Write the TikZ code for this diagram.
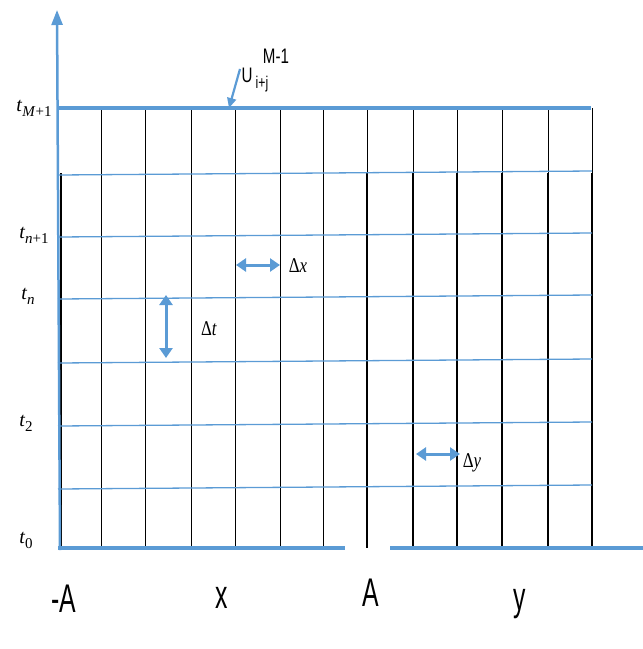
\documentclass[tikz,border=0pt]{standalone}
\usepackage{fontspec}
\newfontfamily\lsans{Liberation Sans}
\newfontfamily\lserif{Liberation Serif}
\usetikzlibrary{arrows.meta}
\definecolor{gblue}{RGB}{91,155,213}
\begin{document}
\begin{tikzpicture}[x=1pt,y=-1pt,
  thickblue/.style={gblue,line width=4pt},
  thinblue/.style={gblue,line width=1.3pt},
  thinblack/.style={black,line width=0.9pt},
  thickblack/.style={black,line width=2.8pt},
  darrow/.style={gblue,line width=3pt,{Triangle[length=10pt,width=13pt]}-{Triangle[length=10pt,width=13pt]}},
  tlab/.style={font=\lserif\fontsize{20}{20}\selectfont, inner sep=0pt},
  dlab/.style={font=\lserif\fontsize{21}{21}\selectfont, inner sep=0pt, xscale=0.8},
  big/.style={font=\lsans\fontsize{40}{40}\selectfont, xscale=0.62, inner sep=0pt, anchor=base},
  ulab/.style={font=\lsans\fontsize{21}{21}\selectfont, xscale=0.72, inner sep=0pt},
]
\useasboundingbox (0,0) rectangle (643,649);
% vertical grid lines
\foreach \x in {101,145,191,235,280,323} \draw[thinblack] (\x,108) -- (\x,548);
\foreach \x in {367,413,457,502,548,592} {
  \draw[thinblack] (\x,108) -- (\x,173);
  \draw[thickblack] (\x,173) -- (\x,548);
}
\draw[black,line width=1.6pt] (61,173) -- (61,548);
% horizontal thin lines
\foreach \y in {173,235,297,361,424,487} \draw[thinblue] (58,\y+2) -- (592,\y-2);
% top and bottom thick lines
\draw[thickblue] (58,108) -- (591,108);
\draw[thickblue] (58,548) -- (345,548);
\draw[thickblue] (390,548) -- (643,548);
% axis
\coordinate (axb) at (60,550);
\coordinate (axt) at (57,10);
\draw[gblue,line width=2.5pt,-{Triangle[length=15pt,width=11pt]}] (axb) -- (axt);
% time labels
\node[tlab] (tM) at (34,108) {\textit{t}\raisebox{-5pt}{\fontsize{15}{15}\selectfont\textit{M}+1}};
\node[tlab] (tn1) at (34,235) {\textit{t}\raisebox{-5pt}{\fontsize{15}{15}\selectfont\textit{n}+1}};
\node[tlab] (tn) at (28,296) {\textit{t}\raisebox{-5pt}{\fontsize{15}{15}\selectfont\textit{n}}};
\node[tlab] (t2) at (26,423) {\textit{t}\raisebox{-5pt}{\fontsize{15}{15}\selectfont 2}};
\node[tlab] (t0) at (26,540) {\textit{t}\raisebox{-5pt}{\fontsize{15}{15}\selectfont 0}};
% U label
\node[ulab] (U) at (247,75) {U};
\node[ulab, font=\lsans\fontsize{17}{17}\selectfont] (Usub) at (262,84) {i+j};
\node[ulab] (Usup) at (276,56) {M-1};
\coordinate (ua) at (240,69);
\coordinate (ub) at (229,108);
\draw[gblue,line width=2.2pt,-{Triangle[length=10pt,width=9pt]}] (ua) -- (ub);
% delta arrows
\coordinate (dx1) at (236,265);
\coordinate (dx2) at (280,265);
\draw[darrow] (dx1) -- (dx2);
\node[dlab] (dxl) at (298,266) {Δ\textit{x}};
\coordinate (dt1) at (166,295);
\coordinate (dt2) at (166,358);
\draw[darrow] (dt1) -- (dt2);
\node[dlab] (dtl) at (209,329) {Δ\textit{t}};
\coordinate (dy1) at (416,454);
\coordinate (dy2) at (460,454);
\draw[darrow] (dy1) -- (dy2);
\node[dlab] (dyl) at (472,463) {Δ\textit{y}};
% bottom labels
\node[big] (mA) at (64,612) {-A};
\node[big] (lx) at (222,608) {x};
\node[big] (lA) at (371,606) {A};
\node[big] (ly) at (520,610) {y};
\end{tikzpicture}
\end{document}
